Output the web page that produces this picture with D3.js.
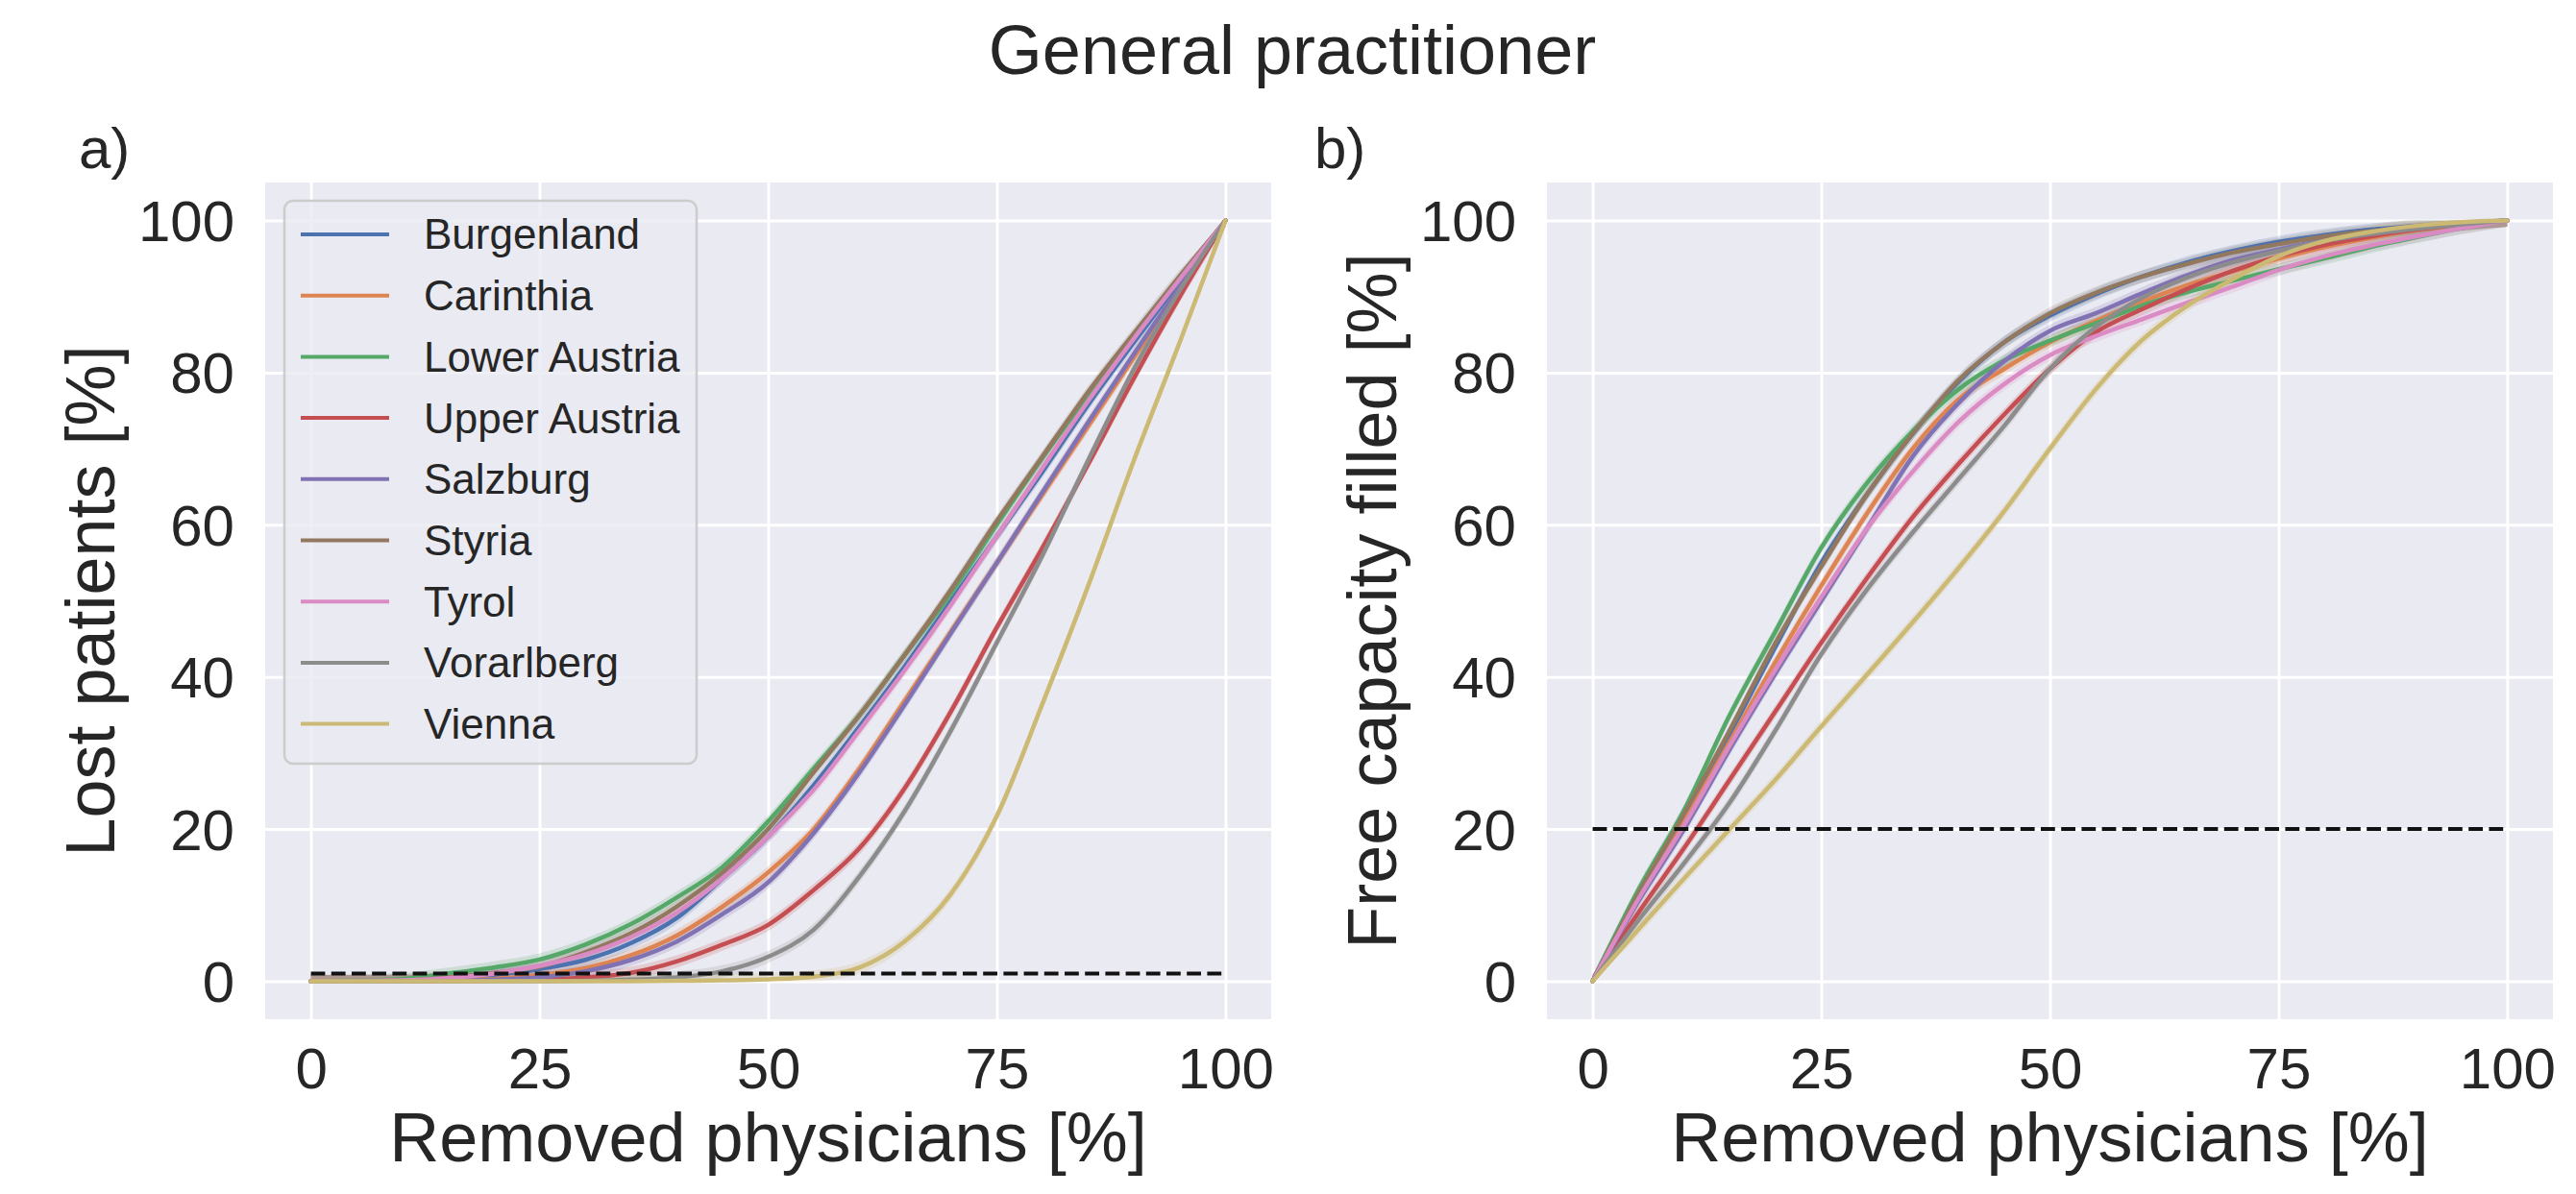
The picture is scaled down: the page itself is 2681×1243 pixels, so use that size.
<!DOCTYPE html>
<html>
<head>
<meta charset="utf-8">
<script src="https://cdn.jsdelivr.net/npm/d3@7"></script>
<style>
  html, body { margin: 0; padding: 0; background: #ffffff; }
  svg { display: block; }
  text { font-family: "Liberation Sans", Arial, sans-serif; fill: #262626; }
</style>
</head>
<body>
<svg id="chart" width="2681" height="1243"></svg>
<script>
// ---------------- DATA ----------------
const title = "General practitioner";
const regions = ["Burgenland", "Carinthia", "Lower Austria", "Upper Austria", "Salzburg", "Styria", "Tyrol", "Vorarlberg", "Vienna"];
const colors = ["#4C72B0", "#DD8452", "#55A868", "#C44E52", "#8172B3", "#937860", "#DA8BC3", "#8C8C8C", "#CCB974"];
const xTicks = [0, 25, 50, 75, 100];
const yTicks = [0, 20, 40, 60, 80, 100];

// Panel a) Lost patients [%] vs removed physicians [%]
const lostX = [0, 10, 15, 20, 25, 30, 35, 40, 45, 50, 55, 60, 65, 70, 75, 80, 85, 90, 95, 100];
const lostBurgenland   = [0, 0.05, 0.3, 0.8, 1.6, 2.8, 5, 8.3, 13.5, 19, 25.8, 33.5, 41.5, 50, 58.5, 67, 75.8, 84, 92, 100];
const lostCarinthia    = [0, 0, 0.1, 0.3, 0.8, 1.7, 3.4, 6, 9.8, 14.3, 20, 28, 37, 46, 55, 64, 73, 82, 91, 100];
const lostLowerAustria = [0, 0.3, 1.0, 1.8, 2.85, 4.8, 7.5, 11, 15, 21, 28, 35, 43, 51, 60, 68.8, 77, 84.8, 92.4, 100];
const lostUpperAustria = [0, 0, 0, 0.05, 0.2, 0.5, 1.1, 2.6, 4.8, 7.4, 12, 17.5, 25.5, 35.5, 46.5, 57, 68, 79.3, 90, 100];
const lostSalzburg     = [0, 0, 0.05, 0.2, 0.5, 1.3, 2.8, 5.2, 8.8, 13, 19.5, 27.5, 36.5, 45.8, 55, 64.3, 73.5, 82.5, 91.3, 100];
const lostStyria       = [0, 0.1, 0.5, 1.1, 1.9, 3.8, 6.3, 9.8, 14.3, 20, 27.5, 35, 43, 51.5, 60.5, 69, 77.5, 85.2, 92.7, 100];
const lostTyrol        = [0, 0.1, 0.4, 1, 2, 3.5, 5.8, 9, 13.5, 19, 25.2, 33, 41, 49.5, 58.5, 67.5, 76.3, 84.5, 92.3, 100];
const lostVorarlberg   = [0, 0, 0, 0, 0, 0.05, 0.2, 0.5, 1.3, 3.2, 6.8, 13.8, 22.5, 33, 44.5, 56, 68.5, 80.5, 90.8, 100];
const lostVienna       = [0, 0, 0, 0, 0, 0, 0, 0.05, 0.1, 0.25, 0.6, 1.8, 5.3, 11.5, 21.7, 36.5, 52, 68.5, 84, 100];
const lostThreshold = 1;

// Panel b) Free capacity filled [%] vs removed physicians [%]
const capX = [0, 5, 10, 15, 20, 25, 30, 35, 40, 45, 50, 55, 60, 65, 70, 75, 80, 85, 90, 95, 100];
const capBurgenland   = [0, 11, 21.5, 32.5, 44, 55, 64, 72, 78.8, 84, 87.5, 90.3, 92.6, 94.5, 96, 97.2, 98.1, 98.8, 99.3, 99.7, 100];
const capCarinthia    = [0, 11, 21, 31.5, 42, 52, 61.5, 70, 76.5, 80.5, 84, 86.8, 89.3, 91.5, 93.3, 95, 96.5, 97.7, 98.7, 99.4, 100];
const capLowerAustria = [0, 12, 22.5, 35, 46, 57, 65.5, 72.3, 77.8, 81.6, 84.2, 86.5, 88.8, 90.6, 92.1, 93.6, 95, 96.5, 97.8, 99, 100];
const capUpperAustria = [0, 9, 17.5, 26.5, 35.5, 44.5, 53, 61, 68, 74.5, 80.5, 85.3, 88.3, 91, 93.4, 95.3, 96.8, 97.9, 98.8, 99.5, 100];
const capSalzburg     = [0, 10.5, 20, 30.5, 40.5, 50, 59.5, 69, 76, 81.5, 85.5, 87.8, 90.4, 92.8, 94.8, 96.2, 97.4, 98.3, 99, 99.5, 100];
const capStyria       = [0, 11.5, 22, 33, 44.5, 54.5, 64, 72, 79, 84, 87.8, 90.5, 92.6, 94.3, 95.8, 96.9, 97.9, 98.6, 99.2, 99.6, 100];
const capTyrol        = [0, 10.8, 20.5, 31, 41, 50.5, 59.5, 67, 73.5, 78.5, 82.3, 84.8, 87, 89.2, 91.3, 93.5, 95.3, 96.7, 97.9, 99, 100];
const capVorarlberg   = [0, 8, 15.5, 23.5, 33, 43, 51.5, 59, 66, 73, 80.5, 86, 89.8, 92.5, 94.5, 96, 97.3, 98.2, 98.9, 99.5, 100];
const capVienna       = [0, 6.8, 13.5, 20, 26.5, 33.5, 40.3, 47.2, 54.3, 61.8, 70, 77.8, 84.2, 88.8, 92.3, 95.3, 97.3, 98.5, 99.3, 99.8, 100];
const capThreshold = 20;

const lostSeries = [lostBurgenland, lostCarinthia, lostLowerAustria, lostUpperAustria, lostSalzburg, lostStyria, lostTyrol, lostVorarlberg, lostVienna];
const capSeries = [capBurgenland, capCarinthia, capLowerAustria, capUpperAustria, capSalzburg, capStyria, capTyrol, capVorarlberg, capVienna];

// ---------------- DRAW ----------------
const svg = d3.select("#chart");
svg.append("rect").attr("width", 2681).attr("height", 1243).attr("fill", "#ffffff");

svg.append("text").attr("x", 1345).attr("y", 77).attr("text-anchor", "middle")
  .style("font-size", "72px").text(title);

function panel(opts) {
  const { left, right, top, bottom, xs, series, threshold, ylabel, letter, letterX } = opts;
  const x = d3.scaleLinear().domain([-5, 105]).range([left, right]);
  const y = d3.scaleLinear().domain([-5, 105]).range([bottom, top]);
  const g = svg.append("g");

  g.append("rect").attr("x", left).attr("y", top).attr("width", right - left).attr("height", bottom - top)
    .attr("fill", "#EAEAF2");

  const gx = g.append("g").attr("transform", `translate(0,${bottom})`)
    .call(d3.axisBottom(x).tickValues(xTicks).tickSize(-(bottom - top)).tickFormat(d3.format("d")).tickPadding(0));
  gx.select(".domain").remove();
  gx.selectAll("line").attr("stroke", "#ffffff").attr("stroke-width", 3);
  gx.selectAll("text").attr("y", 72).attr("dy", null).style("font-size", "60px").attr("fill", "#262626");

  const gy = g.append("g").attr("transform", `translate(${left},0)`)
    .call(d3.axisLeft(y).tickValues(yTicks).tickSize(-(right - left)).tickFormat(d3.format("d")).tickPadding(0));
  gy.select(".domain").remove();
  gy.selectAll("line").attr("stroke", "#ffffff").attr("stroke-width", 3);
  gy.selectAll("text").attr("x", -32).attr("dy", "0.35em").style("font-size", "60px").attr("fill", "#262626");

  const clipId = "clip" + letter;
  svg.append("defs").append("clipPath").attr("id", clipId)
    .append("rect").attr("x", left).attr("y", top).attr("width", right - left).attr("height", bottom - top);
  const plot = g.append("g").attr("clip-path", `url(#${clipId})`);

  const area = d3.area().x(d => x(d[0])).y0(d => y(Math.max(0, d[1] - 0.8))).y1(d => y(Math.min(100, d[1] + 0.8)))
    .curve(d3.curveMonotoneX);
  const line = d3.line().x(d => x(d[0])).y(d => y(d[1])).curve(d3.curveMonotoneX);

  series.forEach((vals, i) => {
    const pts = xs.map((xv, j) => [xv, vals[j]]);
    plot.append("path").attr("d", area(pts)).attr("fill", colors[i]).attr("opacity", 0.2);
  });
  series.forEach((vals, i) => {
    const pts = xs.map((xv, j) => [xv, vals[j]]);
    plot.append("path").attr("d", line(pts)).attr("fill", "none").attr("stroke", colors[i])
      .attr("stroke-width", 4.5).attr("stroke-linejoin", "round").attr("stroke-linecap", "round");
  });

  const straight = d3.line().x(d => x(d[0])).y(d => y(d[1]));
  plot.append("path").attr("d", straight([[0, threshold], [100, threshold]]))
    .attr("stroke", "#111111").attr("stroke-width", 4).attr("fill", "none")
    .attr("stroke-dasharray", "14.8,6.4");

  g.append("text").attr("x", (left + right) / 2).attr("y", 1209).attr("text-anchor", "middle")
    .style("font-size", "72px").text("Removed physicians [%]");
  g.append("text").attr("transform", `translate(${left - 157},${(top + bottom) / 2}) rotate(-90)`)
    .attr("text-anchor", "middle").style("font-size", "72px").text(ylabel);
  g.append("text").attr("x", letterX).attr("y", 175).style("font-size", "60px").text(letter + ")");
  return { x, y, g };
}

const A = panel({ left: 276, right: 1323, top: 190, bottom: 1061, xs: lostX, series: lostSeries,
  threshold: lostThreshold, ylabel: "Lost patients [%]", letter: "a", letterX: 82 });
const B = panel({ left: 1610, right: 2657, top: 190, bottom: 1061, xs: capX, series: capSeries,
  threshold: capThreshold, ylabel: "Free capacity filled [%]", letter: "b", letterX: 1368 });

// Legend in panel a
const leg = A.g.append("g");
leg.append("rect").attr("x", 296).attr("y", 209).attr("width", 429).attr("height", 586)
  .attr("rx", 9).attr("fill", "#EAEAF2").attr("fill-opacity", 0.8)
  .attr("stroke", "#cccccc").attr("stroke-width", 2.5);
regions.forEach((r, i) => {
  const cy = 244 + i * 63.7;
  leg.append("line").attr("x1", 313).attr("x2", 405).attr("y1", cy).attr("y2", cy)
    .attr("stroke", colors[i]).attr("stroke-width", 4);
  leg.append("text").attr("x", 441).attr("y", cy).attr("dy", "0.35em").style("font-size", "44px").text(r);
});
</script>
</body>
</html>
